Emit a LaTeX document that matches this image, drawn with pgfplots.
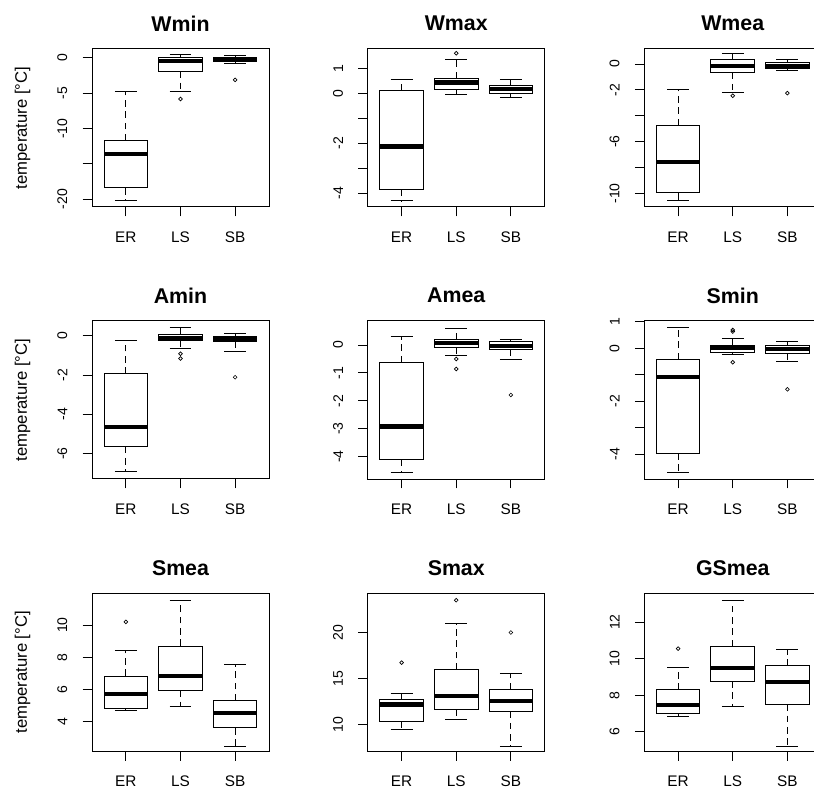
\documentclass[border=0pt]{standalone}
\usepackage{fontspec}
\setmainfont{Liberation Sans}
\usepackage{pgfplots}
\pgfplotsset{compat=1.18}
\usepgfplotslibrary{statistics}

% R-like boxplot: dashed whiskers, solid staples, thick median
\pgfplotsset{
  boxplot/draw direction=y,
  boxplot/whisker extend=0.4,
  boxplot/every median/.style={line width=3.2pt},
  boxplot/draw/lower whisker/.code={
    \draw[dash pattern=on 5pt off 3.5pt]
      (boxplot box cs:\pgfplotsboxplotvalue{lower quartile},0.5) --
      (boxplot box cs:\pgfplotsboxplotvalue{lower whisker},0.5);
    \draw (boxplot whisker cs:\pgfplotsboxplotvalue{lower whisker},0) --
      (boxplot whisker cs:\pgfplotsboxplotvalue{lower whisker},1);
  },
  boxplot/draw/upper whisker/.code={
    \draw[dash pattern=on 5pt off 3.5pt]
      (boxplot box cs:\pgfplotsboxplotvalue{upper quartile},0.5) --
      (boxplot box cs:\pgfplotsboxplotvalue{upper whisker},0.5);
    \draw (boxplot whisker cs:\pgfplotsboxplotvalue{upper whisker},0) --
      (boxplot whisker cs:\pgfplotsboxplotvalue{upper whisker},1);
  },
  rpanel/.style={
    anchor=north west, scale only axis,
    width=132.75pt, height=118.5pt,
    xmin=0.38, xmax=3.62,
    xtick={1,2,3}, xticklabels={ER,LS,SB},
    tick align=outside, tick pos=left,
    major tick length=7pt,
    axis line style={line width=0.75pt},
    every tick/.style={black, line width=0.75pt},
    xticklabel style={font=\fontsize{11.5}{13}\selectfont},
    yticklabel style={font=\fontsize{10.5}{12}\selectfont, rotate=90, anchor=south},
    ticklabel shift=8pt,
    every axis title/.style={at={(0.5,1)}, anchor=center, yshift=19pt,
      font=\bfseries\fontsize{16}{19}\selectfont},
    every axis y label/.style={at={(axis description cs:-0.392,0.5)},
      rotate=90, anchor=center, font=\fontsize{12.5}{15}\selectfont},
  },
  rbox/.style={black, solid, line width=0.75pt, mark=o, mark size=1.4pt,
    mark options={solid, line width=0.5pt}},
}

\begin{document}
\begin{tikzpicture}
\path[use as bounding box] (0,0) rectangle (610.5pt,-593.25pt);

% ---- row 1 ----
\begin{axis}[rpanel, at={(69pt,-36.75pt)}, title={Wmin},
  ymin=-21.1, ymax=1.27, ytick={-20,-15,-10,-5,0}, yticklabels={-20,,-10,-5,0},
  ylabel={temperature [°C]}]
\addplot[rbox, boxplot prepared={draw position=1, lower whisker=-20.2,
  lower quartile=-18.4, median=-13.6, upper quartile=-11.7, upper whisker=-4.77}] coordinates {};
\addplot[rbox, boxplot prepared={draw position=2, lower whisker=-4.7,
  lower quartile=-1.9, median=-0.4, upper quartile=0.1, upper whisker=0.52}] coordinates {(0,-5.8)};
\addplot[rbox, boxplot prepared={draw position=3, lower whisker=-0.75,
  lower quartile=-0.55, median=-0.3, upper quartile=0, upper whisker=0.3}] coordinates {(0,-3.1)};
\end{axis}

\begin{axis}[rpanel, at={(275.8pt,-36.75pt)}, title={Wmax},
  ymin=-4.55, ymax=1.77, ytick={-4,-3,-2,-1,0,1}, yticklabels={-4,,-2,,0,1}]
\addplot[rbox, boxplot prepared={draw position=1, lower whisker=-4.3,
  lower quartile=-3.84, median=-2.13, upper quartile=0.12, upper whisker=0.56}] coordinates {};
\addplot[rbox, boxplot prepared={draw position=2, lower whisker=-0.04,
  lower quartile=0.13, median=0.43, upper quartile=0.6, upper whisker=1.33}] coordinates {(0,1.6)};
\addplot[rbox, boxplot prepared={draw position=3, lower whisker=-0.17,
  lower quartile=0, median=0.16, upper quartile=0.3, upper whisker=0.56}] coordinates {};
\end{axis}

\begin{axis}[rpanel, at={(483.2pt,-36.75pt)}, title={Wmea},
  ymin=-11.04, ymax=1.16, ytick={-10,-8,-6,-4,-2,0}, yticklabels={-10,,-6,,-2,0}]
\addplot[rbox, boxplot prepared={draw position=1, lower whisker=-10.57,
  lower quartile=-9.95, median=-7.55, upper quartile=-4.73, upper whisker=-1.94}] coordinates {};
\addplot[rbox, boxplot prepared={draw position=2, lower whisker=-2.2,
  lower quartile=-0.65, median=-0.13, upper quartile=0.33, upper whisker=0.78}] coordinates {(0,-2.45)};
\addplot[rbox, boxplot prepared={draw position=3, lower whisker=-0.5,
  lower quartile=-0.36, median=-0.13, upper quartile=0.08, upper whisker=0.33}] coordinates {(0,-2.25)};
\end{axis}

% ---- row 2 ----
\begin{axis}[rpanel, at={(69pt,-240.75pt)}, title={Amin},
  ymin=-7.3, ymax=0.76, ytick={-6,-4,-2,0}, yticklabels={-6,-4,-2,0},
  ylabel={temperature [°C]}]
\addplot[rbox, boxplot prepared={draw position=1, lower whisker=-6.93,
  lower quartile=-5.65, median=-4.65, upper quartile=-1.94, upper whisker=-0.24}] coordinates {};
\addplot[rbox, boxplot prepared={draw position=2, lower whisker=-0.62,
  lower quartile=-0.25, median=-0.09, upper quartile=0.05, upper whisker=0.42}] coordinates {(0,-0.91) (0,-1.15)};
\addplot[rbox, boxplot prepared={draw position=3, lower whisker=-0.8,
  lower quartile=-0.29, median=-0.15, upper quartile=-0.03, upper whisker=0.14}] coordinates {(0,-2.11)};
\end{axis}

\begin{axis}[rpanel, at={(275.8pt,-240.75pt)}, title={Amea},
  ymin=-4.8, ymax=0.86, ytick={-4,-3,-2,-1,0}, yticklabels={-4,-3,-2,-1,0}]
\addplot[rbox, boxplot prepared={draw position=1, lower whisker=-4.58,
  lower quartile=-4.1, median=-2.92, upper quartile=-0.62, upper whisker=0.32}] coordinates {};
\addplot[rbox, boxplot prepared={draw position=2, lower whisker=-0.39,
  lower quartile=-0.08, median=0.06, upper quartile=0.18, upper whisker=0.6}] coordinates {(0,-0.5) (0,-0.86)};
\addplot[rbox, boxplot prepared={draw position=3, lower whisker=-0.51,
  lower quartile=-0.15, median=-0.04, upper quartile=0.12, upper whisker=0.21}] coordinates {(0,-1.79)};
\end{axis}

\begin{axis}[rpanel, at={(483.2pt,-240.75pt)}, title={Smin},
  ymin=-4.94, ymax=1.03, ytick={-4,-3,-2,-1,0,1}, yticklabels={-4,,-2,,0,1}]
\addplot[rbox, boxplot prepared={draw position=1, lower whisker=-4.69,
  lower quartile=-3.96, median=-1.09, upper quartile=-0.42, upper whisker=0.78}] coordinates {};
\addplot[rbox, boxplot prepared={draw position=2, lower whisker=-0.25,
  lower quartile=-0.17, median=0, upper quartile=0.09, upper whisker=0.35}] coordinates {(0,0.69) (0,0.63) (0,-0.53)};
\addplot[rbox, boxplot prepared={draw position=3, lower whisker=-0.5,
  lower quartile=-0.19, median=-0.04, upper quartile=0.09, upper whisker=0.25}] coordinates {(0,-1.55)};
\end{axis}

% ---- row 3 ----
\begin{axis}[rpanel, at={(69pt,-445pt)}, title={Smea},
  ymin=2.14, ymax=11.98, ytick={4,6,8,10}, yticklabels={4,6,8,10},
  ylabel={temperature [°C]}]
\addplot[rbox, boxplot prepared={draw position=1, lower whisker=4.69,
  lower quartile=4.83, median=5.73, upper quartile=6.83, upper whisker=8.39}] coordinates {(0,10.2)};
\addplot[rbox, boxplot prepared={draw position=2, lower whisker=4.94,
  lower quartile=5.94, median=6.83, upper quartile=8.69, upper whisker=11.56}] coordinates {};
\addplot[rbox, boxplot prepared={draw position=3, lower whisker=2.44,
  lower quartile=3.6, median=4.52, upper quartile=5.29, upper whisker=7.54}] coordinates {};
\end{axis}

\begin{axis}[rpanel, at={(275.8pt,-445pt)}, title={Smax},
  ymin=7.13, ymax=24.24, ytick={10,15,20}, yticklabels={10,15,20}]
\addplot[rbox, boxplot prepared={draw position=1, lower whisker=9.49,
  lower quartile=10.36, median=12.2, upper quartile=12.72, upper whisker=13.37}] coordinates {(0,16.74)};
\addplot[rbox, boxplot prepared={draw position=2, lower whisker=10.58,
  lower quartile=11.7, median=13.11, upper quartile=15.98, upper whisker=20.93}] coordinates {(0,23.5)};
\addplot[rbox, boxplot prepared={draw position=3, lower whisker=7.64,
  lower quartile=11.45, median=12.6, upper quartile=13.8, upper whisker=15.54}] coordinates {(0,20)};
\end{axis}

\begin{axis}[rpanel, at={(483.2pt,-445pt)}, title={GSmea},
  ymin=4.92, ymax=13.58, ytick={6,8,10,12}, yticklabels={6,8,10,12}]
\addplot[rbox, boxplot prepared={draw position=1, lower whisker=6.83,
  lower quartile=6.97, median=7.47, upper quartile=8.29, upper whisker=9.54}] coordinates {(0,10.55)};
\addplot[rbox, boxplot prepared={draw position=2, lower whisker=7.38,
  lower quartile=8.77, median=9.5, upper quartile=10.68, upper whisker=13.21}] coordinates {};
\addplot[rbox, boxplot prepared={draw position=3, lower whisker=5.17,
  lower quartile=7.5, median=8.71, upper quartile=9.6, upper whisker=10.5}] coordinates {};
\end{axis}
\end{tikzpicture}
\end{document}
